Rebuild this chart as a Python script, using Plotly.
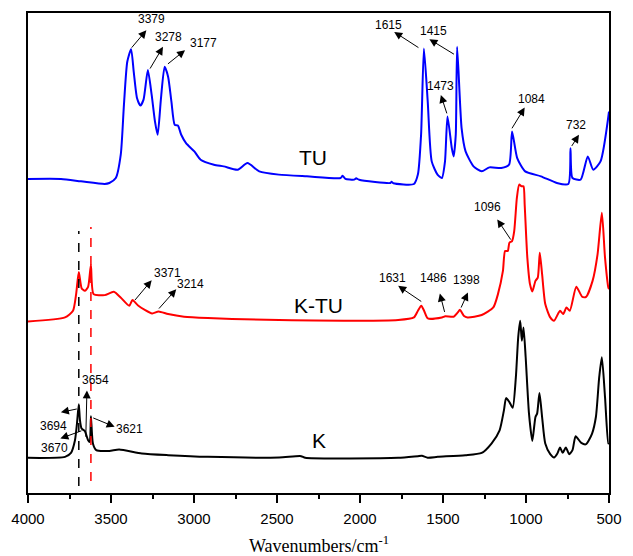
import plotly.graph_objects as go

# ---------------- data (wavenumber cm^-1, offset intensity a.u.) ----------------
tu_wn = [4000, 3801, 3681, 3538, 3510, 3471, 3441, 3422, 3402, 3379, 3363, 3343, 3323, 3304,
         3278, 3255, 3235, 3219, 3199, 3177, 3156, 3136, 3116, 3097, 3077, 3048, 2998, 2960,
         2880, 2821, 2737, 2678, 2607, 2489, 2320, 2117, 2105, 2088, 2035, 2023, 2005, 1817,
         1810, 1799, 1675, 1651, 1632, 1615, 1592, 1568, 1533, 1507, 1488, 1473, 1447, 1436,
         1423, 1415, 1388, 1364, 1316, 1267, 1220, 1149, 1102, 1084, 1053, 1005, 910, 814,
         745, 732, 720, 671, 628, 595, 551, 500]
tu_y = [315.3, 315.3, 313, 310.3, 311.3, 316.3, 340, 390, 433, 445.7, 423, 396.3, 389, 395,
        424.7, 399.7, 373, 359.7, 396.3, 428, 418, 393, 369.7, 369, 359.7, 351.3, 343, 334.7,
        329.7, 328, 324.7, 331.3, 323, 319.7, 318, 316.3, 318.5, 315.5, 314.7, 316, 314.5, 311.3,
        312.5, 311, 310.3, 320, 360, 446.3, 393, 333, 319.7, 316.3, 333, 378, 346.3, 338,
        360, 448, 366.3, 343, 328, 323, 327, 326.3, 329.7, 363, 336.3, 323, 318, 311.3,
        310.3, 346.3, 316.3, 314.7, 338, 324.7, 333, 383]

ktu_wn = [4000, 3777, 3729, 3710, 3694, 3677, 3658, 3638, 3621, 3605, 3538, 3483, 3442, 3390,
          3371, 3335, 3252, 3214, 3156, 3060, 2917, 2487, 1770, 1675, 1651, 1631, 1614, 1591,
          1507, 1486, 1436, 1411, 1398, 1375, 1352, 1267, 1197, 1169, 1139, 1126, 1110, 1100,
          1084, 1071, 1055, 1041, 1027, 1015, 1008, 992, 976, 962, 943, 929, 917, 903, 884,
          854, 831, 795, 776, 756, 736, 697, 661, 638, 599, 569, 543, 524, 504, 500]
ktu_y = [172.3, 176.3, 183, 199.7, 222, 205.7, 203, 207, 229, 199.7, 198.7, 202, 196.3, 188,
         193.7, 188, 180.3, 182.3, 179.7, 177, 175.7, 173.7, 173.7, 176.3, 183, 188, 183, 175.3,
         176.3, 177.5, 177, 181.3, 184, 178, 176.3, 178.7, 186.3, 199.7, 223, 243, 243, 251.3,
         253, 263, 296.3, 309.7, 308, 308, 289.7, 236.3, 209.7, 202.3, 213, 216.3, 241.3, 219.7, 189.7,
         176.3, 173, 183, 179.7, 186.3, 183, 207, 197, 197, 213, 239.7, 281.3, 236.3, 206.3, 204.7]

k_wn = [4000, 3777, 3741, 3717, 3705, 3694, 3687, 3677, 3658, 3638, 3628, 3621, 3609, 3589,
        3510, 3451, 3314, 3156, 2917, 2487, 2355, 2330, 1770, 1651, 1627, 1592, 1531, 1366,
        1267, 1208, 1159, 1133, 1120, 1100, 1080, 1061, 1047, 1035, 1025, 1015, 1002, 982,
        962, 943, 933, 919, 903, 884, 854, 831, 811, 795, 779, 760, 740, 720, 701, 667, 638,
        602, 579, 559, 543, 524, 504, 500]
k_y = [35.3, 36.3, 40.3, 53, 69.7, 89, 73, 64.7, 62.3, 53, 51.3, 77, 49.7, 43,
       42.3, 43.7, 39.7, 38, 36.3, 35.7, 37, 35.3, 35.3, 37, 37.3, 35.5, 36.3, 38,
       40.3, 49.7, 63, 83, 95.3, 91.3, 85.7, 116.3, 156.3, 173, 153, 166.3, 136.3, 79.7,
       52.3, 76.3, 79.7, 100.3, 76.3, 49.7, 39, 35.7, 39.7, 45.7, 40.3, 45.7, 39, 43, 57, 50.3, 49,
       59.7, 76.3, 116.3, 136.3, 96.3, 49.7, 50]

series_names = ["TU", "K-TU", "K"]
series_colors = ["#0000FF", "#FF0000", "#000000"]

# peak labels: (text, text_x, text_y, tail_x, tail_y, head_x, head_y)
peak_labels = [
    ("3379", 3256, 475.7, 3383, 445.7, 3287, 464.7),
    ("3278", 3156, 458.0, 3270, 424.7, 3187, 448.0),
    ("3177", 2945, 452.3, 3166, 429.7, 3054, 444.7),
    ("1615", 1830, 470.3, 1639, 446.3, 1794, 463.0),
    ("1415", 1560, 463.7, 1425, 439.7, 1582, 455.7),
    ("1473", 1517, 409.0, 1474, 379.7, 1513, 399.7),
    ("1084", 966, 395.3, 1090, 364.7, 1008, 387.0),
    ("732", 701, 369.7, 730, 347.0, 681, 359.7),
    ("3371", 3160, 220.7, 3363, 192.3, 3255, 213.7),
    ("3214", 3019, 209.7, 3219, 183.7, 3107, 204.7),
    ("1631", 1806, 216.3, 1622, 191.3, 1770, 208.0),
    ("1486", 1555, 216.3, 1488, 180.3, 1519, 200.3),
    ("1398", 1360, 213.7, 1395, 184.7, 1350, 201.3),
    ("1096", 1232, 287.0, 1086, 253.0, 1173, 274.7),
    ("3654", 3593, 113.7, 3652, 55.0, 3645, 103.0),
    ("3694", 3849, 67.0, 3697, 84.7, 3802, 81.0),
    ("3670", 3842, 44.7, 3669, 63.0, 3805, 54.7),
    ("3621", 3391, 64.5, 3616, 76.0, 3478, 66.5),
]

# sample labels: (text, x, y)
sample_labels = [("TU", 2284, 337.3), ("K-TU", 2253, 188.0), ("K", 2248, 52.3)]

# dashed marker lines: (wavenumber, y0, y1, color)
marker_lines = [(3694, 7, 263, "#000000"), (3621, 12, 267, "#FF0000")]

x_title = "Wavenumbers/cm<sup>-1</sup>"

# ---------------- figure ----------------
fig = go.Figure()
for wn, yy, name, col in zip([tu_wn, ktu_wn, k_wn], [tu_y, ktu_y, k_y], series_names, series_colors):
    fig.add_trace(go.Scatter(x=wn, y=yy, mode="lines", name=name,
                             line=dict(color=col, width=2, shape="spline", smoothing=0.6),
                             hoverinfo="skip"))

for wn, y0, y1, col in marker_lines:
    fig.add_shape(type="line", xref="x", yref="y", x0=wn, x1=wn, y0=y0, y1=y1,
                  line=dict(color=col, width=1.5, dash="dash"))

annotations = []
for txt, tx, ty, ax_, ay_, hx, hy in peak_labels:
    annotations.append(dict(x=hx, y=hy, ax=ax_, ay=ay_, xref="x", yref="y", axref="x", ayref="y",
                            text="", showarrow=True, arrowhead=2, arrowsize=1.6, arrowwidth=1,
                            arrowcolor="#000000"))
    annotations.append(dict(x=tx, y=ty, xref="x", yref="y", text=txt, showarrow=False,
                            font=dict(family="Liberation Sans, Arial", size=12, color="#000000")))
for txt, x, y in sample_labels:
    annotations.append(dict(x=x, y=y, xref="x", yref="y", text=txt, showarrow=False,
                            font=dict(family="Liberation Sans, Arial", size=21, color="#000000")))
# axis title
annotations.append(dict(x=0.5, y=-0.108, xref="paper", yref="paper", text=x_title, showarrow=False,
                        xanchor="center", yanchor="middle",
                        font=dict(family="Liberation Serif, Times New Roman", size=18, color="#000000")))

fig.update_layout(
    width=633, height=556,
    margin=dict(l=27, r=13, t=11, b=63),
    paper_bgcolor="white", plot_bgcolor="white",
    showlegend=False,
    annotations=annotations,
    xaxis=dict(range=[4000, 500], tick0=500, dtick=500, ticks="outside", ticklen=8, tickwidth=1.5,
               tickcolor="#000000", showline=True, mirror=True, linecolor="#000000", linewidth=2,
               showgrid=False, zeroline=False, ticklabelstandoff=3,
               minor=dict(dtick=250, tick0=500, ticks="outside", ticklen=4, tickwidth=1.5, tickcolor="#000000"),
               tickfont=dict(family="Liberation Sans, Arial", size=15, color="#000000")),
    yaxis=dict(range=[0, 482], showticklabels=False, ticks="", showline=True, mirror=True,
               linecolor="#000000", linewidth=2, showgrid=False, zeroline=False),
)

fig.write_html("out.html")
